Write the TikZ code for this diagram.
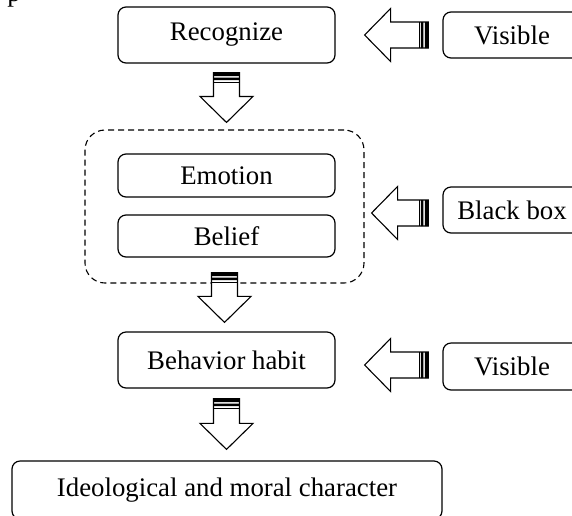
\documentclass[tikz,border=0pt]{standalone}
\usepackage{fontspec}
\setmainfont{Liberation Serif}
\usepackage{tikz}
\usetikzlibrary{calc}

\tikzset{
  stage/.style={draw, line width=0.6pt, rounded corners=4pt, inner sep=0pt,
    font=\fontsize{13.4}{16}\selectfont},
  side/.style={stage, minimum width=69pt, minimum height=23pt},
  blackgroup/.style={draw, dash pattern=on 3pt off 2pt, line width=0.55pt,
    rounded corners=10pt, inner sep=0pt},
  blockline/.style={draw, fill=white, line width=0.55pt, line join=miter}
}

% striped block arrow pointing down: tail point, tip point
\newcommand{\downblock}[2]{%
  \draw[blockline] let \p1=(#1), \p2=(#2) in
    (\x1-6.5pt,\y1) -- (\x1-6.5pt,\y2+13pt) -- (\x1-13.25pt,\y2+13pt) -- (\x1,\y2)
    -- (\x1+13.25pt,\y2+13pt) -- (\x1+6.5pt,\y2+13pt) -- (\x1+6.5pt,\y1) -- cycle;
  \fill let \p1=(#1) in (\x1-6.5pt,\y1) rectangle (\x1+6.5pt,\y1-1.75pt)
    (\x1-6.5pt,\y1-2.5pt) rectangle (\x1+6.5pt,\y1-3.75pt);
  \draw[line width=0.4pt] let \p1=(#1) in (\x1-6.5pt,\y1-4.75pt) -- (\x1+6.5pt,\y1-4.75pt);
}
% striped block arrow pointing left: tail point, tip point
\newcommand{\leftblock}[2]{%
  \draw[blockline] let \p1=(#1), \p2=(#2) in
    (\x1,\y1+6.5pt) -- (\x2+13pt,\y1+6.5pt) -- (\x2+13pt,\y1+13.25pt) -- (\x2,\y1)
    -- (\x2+13pt,\y1-13.25pt) -- (\x2+13pt,\y1-6.5pt) -- (\x1,\y1-6.5pt) -- cycle;
  \fill let \p1=(#1) in (\x1,\y1+6.5pt) rectangle (\x1-1.75pt,\y1-6.5pt)
    (\x1-2.5pt,\y1+6.5pt) rectangle (\x1-3.75pt,\y1-6.5pt);
  \draw[line width=0.4pt] let \p1=(#1) in (\x1-4.75pt,\y1+6.5pt) -- (\x1-4.75pt,\y1-6.5pt);
}

\begin{document}
\begin{tikzpicture}[x=0.5pt, y=-0.5pt]
  \useasboundingbox (0,0) rectangle (572,515);

  % cut-off text above the figure
  \node[anchor=base west, inner sep=0pt, font=\fontsize{13.4}{16}\selectfont] (capfrag) at (7,1) {p};

  % main column
  \node[stage, minimum width=108.5pt, minimum height=28pt] (recognize) at (226.5,35) {Recognize};
  \node[blackgroup, minimum width=139.5pt, minimum height=76.5pt] (inner) at (224.5,206.5) {};
  \node[stage, minimum width=108.5pt, minimum height=21.5pt] (emotion) at (226.5,175.5) {Emotion};
  \node[stage, minimum width=108.5pt, minimum height=21pt] (belief) at (226.5,236) {Belief};
  \node[stage, minimum width=108.5pt, minimum height=28pt] (habit) at (226.5,360) {Behavior habit};
  \node[stage, minimum width=215pt, minimum height=29pt] (character) at (227,490) {Ideological and moral character};

  % side labels
  \node[side] (visibletop) at (512,35) {Visible};
  \node[side] (blackbox) at (512,210) {Black box};
  \node[side, minimum height=23.5pt] (visiblebottom) at (512,366.5) {Visible};

  % arrows down the column
  \downblock{$(recognize.south)+(0,9)$}{$(inner.north)+(0,-7)$}
  \downblock{$(inner.south)+(0,-11)$}{$(habit.north)+(0,-9)$}
  \downblock{$(habit.south)+(0,10)$}{$(character.north)+(0,-11)$}

  % arrows from the side labels
  \leftblock{$(visibletop.west)+(-14,0)$}{$(recognize.east)+(29,0)$}
  \leftblock{$(blackbox.west)+(-14,3)$}{$(inner.east)+(7,0)$}
  \leftblock{$(visiblebottom.west)+(-14,-1.5)$}{$(habit.east)+(29,0)$}
\end{tikzpicture}
\end{document}
